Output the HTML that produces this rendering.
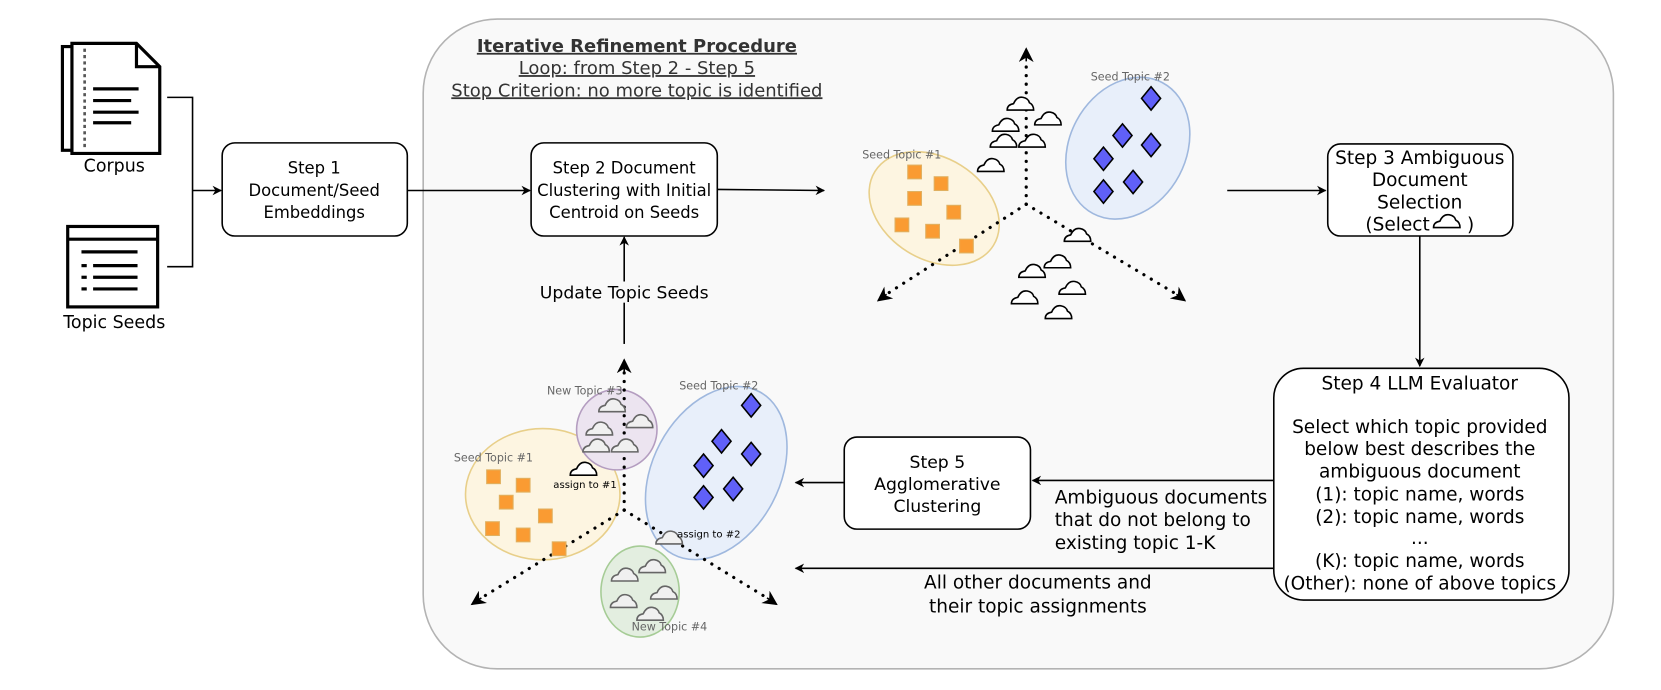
<!DOCTYPE html>
<html><head><meta charset="utf-8"><style>
html,body{margin:0;padding:0;background:#fff;}
svg{display:block;}
text{font-family:"DejaVu Sans","Liberation Sans",sans-serif;}
</style></head><body>
<svg width="1661" height="690" viewBox="0 0 1570 652" preserveAspectRatio="none" xmlns="http://www.w3.org/2000/svg">
<defs>
<marker id="ar" viewBox="0 0 10 10" refX="9" refY="5" markerWidth="9" markerHeight="9" orient="auto" markerUnits="userSpaceOnUse"><path d="M0,0 L10,5 L0,10 L3,5 Z" fill="#000"/></marker>
<marker id="ar2" viewBox="0 0 10 10" refX="9" refY="5" markerWidth="14" markerHeight="14" orient="auto" markerUnits="userSpaceOnUse"><path d="M0,0 L10,5 L0,10 L3,5 Z" fill="#000"/></marker>
<path id="cl" d="M-12,6 Q-12,1 -6,0 Q-3,-7 3,-6 Q8,-5 9,-1 Q13,1 13,6 Z"/>
</defs>
<rect x="400" y="18" width="1125" height="614" rx="70" fill="#f9f9f9" stroke="#b3b3b3" stroke-width="1.5"/>
<text x="602" y="49" text-anchor="middle" font-size="17" font-weight="bold" fill="#333" text-decoration="underline">Iterative Refinement Procedure </text>
<text x="602" y="70" text-anchor="middle" font-size="17" fill="#333" text-decoration="underline">Loop: from Step 2 - Step 5</text>
<text x="602" y="91" text-anchor="middle" font-size="17" fill="#333" text-decoration="underline">Stop Criterion: no more topic is identified</text>
<!-- corpus icon -->
<g fill="#fff" stroke="#000" stroke-width="3">
<rect x="59" y="44" width="10" height="98"/>
<path d="M68,41 H129 L151,63 V145 H68 Z"/>
<path d="M129,41 V63 H151" fill="none"/>
</g>
<line x1="80" y1="46" x2="80" y2="142" stroke="#555" stroke-width="2.5" stroke-dasharray="3 3"/>
<g stroke="#000" stroke-width="3"><line x1="88" y1="84" x2="131" y2="84"/><line x1="88" y1="95" x2="124" y2="95"/><line x1="88" y1="106" x2="131" y2="106"/><line x1="88" y1="116" x2="124" y2="116"/></g>
<text x="108" y="162" text-anchor="middle" font-size="16.5">Corpus</text>
<!-- topic seeds icon -->
<rect x="64" y="214" width="85" height="76" fill="#fff" stroke="#000" stroke-width="3"/>
<line x1="64" y1="226" x2="149" y2="226" stroke="#000" stroke-width="3"/>
<g stroke="#000" stroke-width="3"><line x1="77" y1="238" x2="130" y2="238"/><line x1="77" y1="251" x2="82" y2="251"/><line x1="88" y1="251" x2="130" y2="251"/><line x1="77" y1="262" x2="82" y2="262"/><line x1="88" y1="262" x2="130" y2="262"/><line x1="77" y1="273" x2="82" y2="273"/><line x1="88" y1="273" x2="130" y2="273"/></g>
<text x="108" y="310" text-anchor="middle" font-size="16.5">Topic Seeds</text>
<path d="M158,92 H182 V252 H158" fill="none" stroke="#000" stroke-width="1.5"/>
<line x1="182" y1="180" x2="209" y2="180" stroke="#000" stroke-width="1.5" marker-end="url(#ar)"/>
<!-- boxes -->
<g fill="#fff" stroke="#000" stroke-width="1.5">
<rect x="210" y="135" width="175" height="88" rx="12"/>
<rect x="502" y="135" width="176" height="88" rx="12"/>
<rect x="1255" y="136" width="175" height="87" rx="12"/>
<rect x="1204" y="348" width="279" height="219" rx="28"/>
<rect x="798" y="413" width="176" height="87" rx="12"/>
</g>
<g font-size="15.5" text-anchor="middle">
<text x="297" y="164">Step 1</text><text x="297" y="185">Document/Seed</text><text x="297" y="206">Embeddings</text>
<text x="590" y="164">Step 2 Document</text><text x="590" y="185">Clustering with Initial</text><text x="590" y="206">Centroid on Seeds</text>
</g>
<g font-size="17.5" text-anchor="middle">
<text x="1342" y="155">Step 3 Ambiguous</text><text x="1342" y="176">Document</text><text x="1342" y="197">Selection</text><text x="1321" y="218">(Select</text><text x="1390" y="218">)</text>
</g>
<g font-size="16.3" text-anchor="middle">
<text x="886" y="442">Step 5</text><text x="886" y="463">Agglomerative</text><text x="886" y="484">Clustering</text>
</g>
<g font-size="17.5" text-anchor="middle">
<text x="1342" y="368">Step 4 LLM Evaluator</text>
<text x="1342" y="409">Select which topic provided</text>
<text x="1342" y="430">below best describes the</text>
<text x="1342" y="451">ambiguous document</text>
<text x="1342" y="473">(1): topic name, words</text>
<text x="1342" y="494">(2): topic name, words</text>
<text x="1342" y="514">...</text>
<text x="1342" y="536">(K): topic name, words</text>
<text x="1342" y="557">(Other): none of above topics</text>
</g>
<use href="#cl" x="1367" y="209" fill="#fff" stroke="#000" stroke-width="1.5"/>
<!-- arrows -->
<g stroke="#000" stroke-width="1.5" fill="none">
<line x1="385" y1="180" x2="501" y2="180" marker-end="url(#ar)"/>
<line x1="678" y1="179" x2="779" y2="180" marker-end="url(#ar)"/>
<line x1="1160" y1="180" x2="1253" y2="180" marker-end="url(#ar)"/>
<line x1="1342" y1="223" x2="1342" y2="346" marker-end="url(#ar)"/>
<line x1="1204" y1="454" x2="976" y2="454" marker-end="url(#ar)"/>
<line x1="1204" y1="537" x2="752" y2="537" marker-end="url(#ar)"/>
<line x1="798" y1="456" x2="752" y2="456" marker-end="url(#ar)"/>
<line x1="590" y1="325" x2="590" y2="224" marker-end="url(#ar)"/>
</g>
<rect x="505" y="266" width="170" height="20" fill="#f9f9f9"/>
<text x="590" y="282" text-anchor="middle" font-size="16.3">Update Topic Seeds</text>
<g font-size="17.5"><text x="997" y="476">Ambiguous documents</text><text x="997" y="497">that do not belong to</text><text x="997" y="519">existing topic 1-K</text></g>
<g font-size="17.5" text-anchor="middle"><text x="981" y="556">All other documents and</text><text x="981" y="579">their topic assignments</text></g>
<!-- scatter 1 -->
<ellipse cx="883" cy="197" rx="66" ry="48" transform="rotate(32 883 197)" fill="#fdf5e1" stroke="#e8cf8a" stroke-width="1.5"/>
<ellipse cx="1066" cy="140" rx="55" ry="70" transform="rotate(28 1066 140)" fill="#e8effa" stroke="#9fb8de" stroke-width="1.5"/>
<g stroke="#000" stroke-width="3" stroke-linecap="round" stroke-dasharray="0.1 8" fill="none">
<line x1="970" y1="193" x2="970" y2="58"/><line x1="970" y1="193" x2="838" y2="278"/><line x1="970" y1="193" x2="1112" y2="278"/>
</g>
<g stroke="#000" stroke-width="1.5"><line x1="970" y1="58" x2="970" y2="46" marker-end="url(#ar2)"/><line x1="838" y1="278" x2="830" y2="284" marker-end="url(#ar2)"/><line x1="1112" y1="278" x2="1120" y2="284" marker-end="url(#ar2)"/></g>
<text x="815" y="150" font-size="10.5" fill="#666">Seed Topic #1</text>
<text x="1031" y="76" font-size="10.5" fill="#666">Seed Topic #2</text>
<g fill="#fa9b32" stroke="#e0b060" stroke-width="1"><rect x="858" y="156" width="13" height="13"/><rect x="883" y="167" width="13" height="13"/><rect x="858" y="181" width="13" height="13"/><rect x="895" y="194" width="13" height="13"/><rect x="846" y="206" width="13" height="13"/><rect x="875" y="212" width="13" height="13"/><rect x="907" y="226" width="13" height="13"/></g>
<g fill="#6060f8" stroke="#000" stroke-width="1.5">
<path d="M1088,82 l9,11 l-9,11 l-9,-11 z"/><path d="M1061,117 l9,11 l-9,11 l-9,-11 z"/><path d="M1088,126 l9,11 l-9,11 l-9,-11 z"/><path d="M1043,139 l9,11 l-9,11 l-9,-11 z"/><path d="M1071,161 l9,11 l-9,11 l-9,-11 z"/><path d="M1043,170 l9,11 l-9,11 l-9,-11 z"/>
</g>
<g fill="#fff" stroke="#000" stroke-width="1.5">
<use href="#cl" x="964" y="98"/><use href="#cl" x="990" y="112"/><use href="#cl" x="950" y="118"/><use href="#cl" x="948" y="133"/><use href="#cl" x="975" y="133"/><use href="#cl" x="936" y="156"/><use href="#cl" x="1018" y="222"/><use href="#cl" x="975" y="256"/><use href="#cl" x="999" y="247"/><use href="#cl" x="968" y="281"/><use href="#cl" x="1013" y="272"/><use href="#cl" x="1000" y="295"/>
</g>
<!-- scatter 2 -->
<ellipse cx="513" cy="467" rx="73" ry="62" fill="#fdf5e1" stroke="#e8cf8a" stroke-width="1.5"/>
<ellipse cx="677" cy="447" rx="60" ry="87" transform="rotate(28 677 447)" fill="#e8effa" stroke="#9fb8de" stroke-width="1.5"/>
<circle cx="583" cy="406" r="38" fill="#ece4f0" stroke="#b49dc0" stroke-width="1.5"/>
<ellipse cx="605" cy="559" rx="37" ry="43" fill="#e3eee0" stroke="#a6cc96" stroke-width="1.5"/>
<g stroke="#000" stroke-width="3" stroke-linecap="round" stroke-dasharray="0.1 8" fill="none">
<line x1="590" y1="482" x2="590" y2="352"/><line x1="590" y1="482" x2="455" y2="565"/><line x1="590" y1="482" x2="725" y2="565"/>
</g>
<g stroke="#000" stroke-width="1.5"><line x1="590" y1="352" x2="590" y2="340" marker-end="url(#ar2)"/><line x1="455" y1="565" x2="446" y2="571" marker-end="url(#ar2)"/><line x1="725" y1="565" x2="734" y2="571" marker-end="url(#ar2)"/></g>
<text x="517" y="373" font-size="10.5" fill="#666">New Topic #3</text>
<text x="642" y="368" font-size="10.5" fill="#666">Seed Topic #2</text>
<text x="429" y="436" font-size="10.5" fill="#666">Seed Topic #1</text>
<text x="597" y="596" font-size="10.5" fill="#666">New Topic #4</text>
<g fill="#fa9b32" stroke="#e0b060" stroke-width="1"><rect x="460" y="444" width="13" height="13"/><rect x="488" y="452" width="13" height="13"/><rect x="472" y="468" width="13" height="13"/><rect x="509" y="481" width="13" height="13"/><rect x="459" y="493" width="13" height="13"/><rect x="488" y="499" width="13" height="13"/><rect x="522" y="512" width="13" height="13"/></g>
<g fill="#6060f8" stroke="#000" stroke-width="1.5">
<path d="M710,372 l9,11 l-9,11 l-9,-11 z"/><path d="M682,406 l9,11 l-9,11 l-9,-11 z"/><path d="M710,418 l9,11 l-9,11 l-9,-11 z"/><path d="M665,429 l9,11 l-9,11 l-9,-11 z"/><path d="M693,451 l9,11 l-9,11 l-9,-11 z"/><path d="M665,459 l9,11 l-9,11 l-9,-11 z"/>
</g>
<g fill="#f0f0f0" stroke="#666" stroke-width="1.5">
<use href="#cl" x="578" y="383"/><use href="#cl" x="604" y="398"/><use href="#cl" x="566" y="405"/><use href="#cl" x="590" y="421"/><use href="#cl" x="563" y="421"/>
<use href="#cl" x="632" y="508"/>
<use href="#cl" x="590" y="543"/><use href="#cl" x="616" y="535"/><use href="#cl" x="627" y="560"/><use href="#cl" x="589" y="568"/><use href="#cl" x="614" y="580"/>
</g>
<use href="#cl" x="551" y="443" fill="#fff" stroke="#000" stroke-width="1.5"/>
<text x="523" y="461" font-size="9.5">assign to #1</text>
<text x="640" y="508" font-size="9.5">assign to #2</text>
</svg>
</body></html>
